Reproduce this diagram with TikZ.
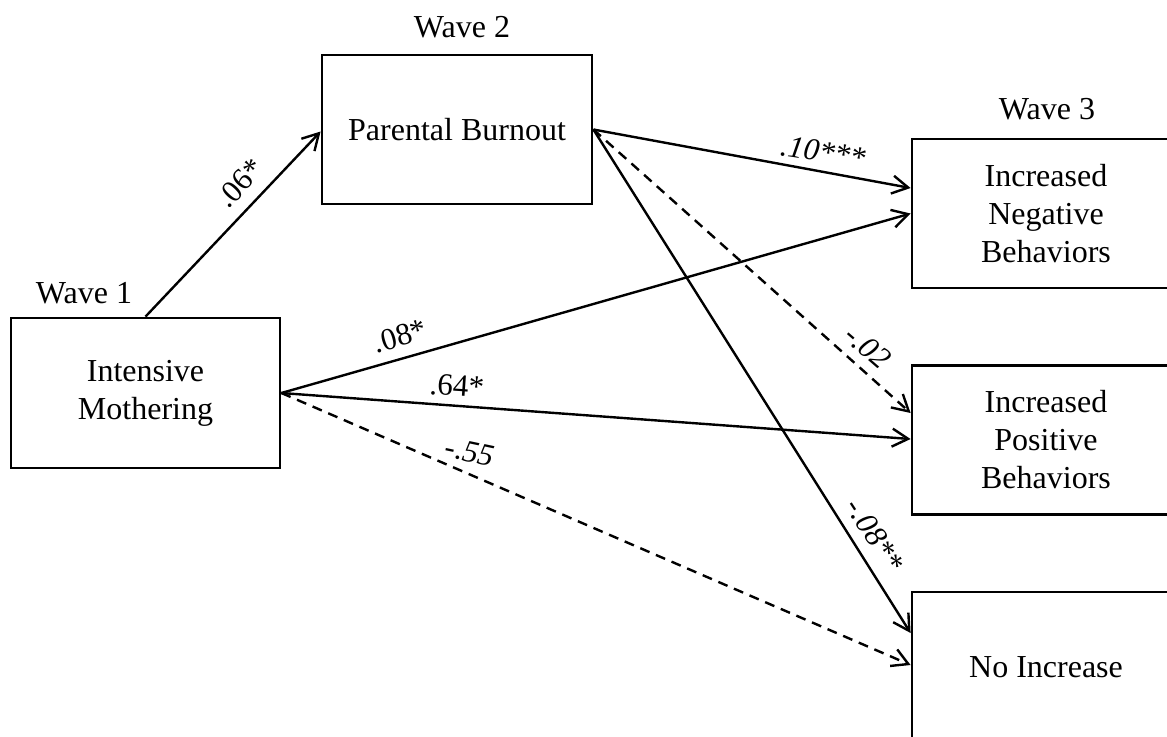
\documentclass[tikz,border=0pt]{standalone}
\usepackage{fontspec}
\setmainfont{Liberation Serif}
\usetikzlibrary{arrows.meta}
\begin{document}
\begin{tikzpicture}[x=0.5pt,y=-0.5pt,
  box/.style={draw,line width=1.4pt,inner sep=0pt,align=center,
    font=\fontsize{16}{19}\selectfont},
  wavelbl/.style={inner sep=0pt,anchor=base,font=\fontsize{16}{19}\selectfont},
  path/.style={line width=1.2pt,-{Straight Barb[length=8pt,width=9pt,line width=1.2pt]}},
  dpath/.style={path,dash pattern=on 5pt off 3.5pt},
  coef/.style={inner sep=0pt,font=\fontsize{15.5}{18}\selectfont},
  icoef/.style={coef,font=\fontsize{15.5}{18}\selectfont\itshape}]
\useasboundingbox (0,0) rectangle (1167,736);
\clip (0,0) rectangle (1167,736);
\node[box,minimum width=134.5pt,minimum height=75pt] (im) at (145.5,393) {Intensive\\Mothering};
\node[box,minimum width=135pt,minimum height=74.5pt] (pb) at (457,129.5) {Parental Burnout};
\node[box,minimum width=134pt,minimum height=74.5pt] (nb) at (1046,213.5) {Increased\\Negative\\Behaviors};
\node[box,minimum width=134pt,minimum height=74.5pt] (pos) at (1046,440) {Increased\\Positive\\Behaviors};
\node[box,minimum width=134pt,minimum height=75pt] (no) at (1046,667) {No Increase};
\node[wavelbl] (w1) at (84,303) {Wave 1};
\node[wavelbl] (w2) at (462,37) {Wave 2};
\node[wavelbl] (w3) at (1047,119) {Wave 3};
\draw[path] (im.north) -- ([yshift=-1pt]pb.west);
\draw[path] (pb.east) -- ([yshift=12.75pt]nb.west);
\draw[dpath] (pb.east) -- ([yshift=13.5pt]pos.west);
\draw[path] (pb.east) -- ([yshift=17pt]no.west);
\draw[path] (im.east) -- (nb.west);
\draw[path] (im.east) -- ([yshift=0.5pt]pos.west);
\draw[dpath] (im.east) -- ([yshift=1pt]no.west);
\node[coef,rotate=47] (c1) at (240,183) {.06*};
\node[icoef,rotate=-9] (c2) at (823,152) {.10***};
\node[coef,rotate=16] (c3) at (400,336) {.08*};
\node[coef,rotate=-4] (c4) at (457,386) {.64*};
\node[icoef,rotate=-12] (c5) at (470,452) {-.55};
\node[icoef,rotate=-41] (c6) at (868,347) {-.02};
\node[icoef,rotate=-57] (c7) at (875,535) {-.08**};
\end{tikzpicture}
\end{document}
